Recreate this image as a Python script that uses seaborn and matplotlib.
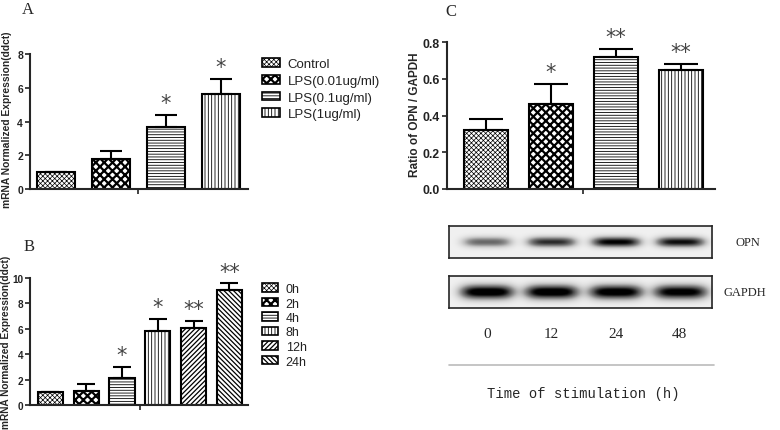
import os
import numpy as np
import matplotlib
matplotlib.use("Agg")
import matplotlib.pyplot as plt
import seaborn as sns
from matplotlib import font_manager
from matplotlib.patches import Patch
from matplotlib.lines import Line2D

# ---- data ----
dose_labels = ["Control", "LPS(0.01ug/ml)", "LPS(0.1ug/ml)", "LPS(1ug/ml)"]
dose_mean = [1.0, 1.75, 3.65, 5.65]
dose_upper = [1.0, 2.25, 4.4, 6.5]
dose_stars = ["", "", "*", "*"]

time_labels = ["0h", "2h", "4h", "8h", "12h", "24h"]
time_mean = [1.0, 1.1, 2.15, 5.85, 6.1, 9.05]
time_upper = [1.0, 1.65, 3.0, 6.8, 6.65, 9.6]
time_stars = ["", "", "*", "*", "**", "**"]

blot_lanes = ["0", "12", "24", "48"]
ratio_mean = [0.32, 0.46, 0.72, 0.65]
ratio_upper = [0.38, 0.57, 0.76, 0.68]
ratio_stars = ["", "*", "**", "**"]

opn_band = [0.55, 0.75, 0.9, 0.85]
gapdh_band = [1.0, 1.0, 0.98, 0.95]

dose_hatch = ["xxxxxxx", "xxxx", "------", "|||||"]
time_hatch = ["xxxxxxx", "xxxx", "------", "|||||", "///////", "\\\\\\\\\\\\\\"]
hatch_lw = {"xxxxxxx": 0.5, "xxxx": 1.6, "------": 0.6, "|||||": 0.6,
            "///////": 0.9, "\\\\\\\\\\\\\\": 0.9}

W, H = 780, 431

sns.set_style("ticks")
plt.rcParams["font.family"] = ["Liberation Sans", "DejaVu Sans"]
plt.rcParams["hatch.linewidth"] = 0.7
plt.rcParams["axes.linewidth"] = 1.5


def bold_font(size):
    """Arial-like bold, found by file so that the narrow cut is not used."""
    for f in font_manager.fontManager.ttflist:
        if os.path.basename(f.fname) == "LiberationSans-Bold.ttf":
            return font_manager.FontProperties(fname=f.fname, size=size)
    return font_manager.FontProperties(family="DejaVu Sans", weight="bold", size=size)


fig = plt.figure(figsize=(W / 100, H / 100), dpi=100)


def px_axes(x0, y0, x1, y1):
    """Axes placed by pixel box (left, top, right, bottom)."""
    return fig.add_axes([x0 / W, 1 - y1 / H, (x1 - x0) / W, (y1 - y0) / H])


def set_hatch(patch, h):
    patch.set_hatch(h)
    if hasattr(patch, "set_hatch_linewidth"):
        patch.set_hatch_linewidth(hatch_lw.get(h, 0.7))


def bar_panel(ax, labels, mean, upper, stars, hatches, width, ylim, yticks,
              xlim, tick_fs, cap, star_off, fmt):
    sns.barplot(x=labels, y=mean, order=labels, color="white", edgecolor="black",
                linewidth=1.5, width=width, saturation=1, errorbar=None, ax=ax)
    for patch, h in zip(ax.patches, hatches):
        set_hatch(patch, h)
        patch.set_facecolor("white")
    pos = np.arange(len(labels))
    err = np.array(upper) - np.array(mean)
    ax.errorbar(pos, mean, yerr=[np.zeros(len(mean)), err], fmt="none",
                ecolor="black", elinewidth=1.5, capsize=cap, capthick=1.5, zorder=5)
    for i, s in enumerate(stars):
        if s:
            ax.text(pos[i], upper[i] + star_off, s, ha="center", va="bottom",
                    fontsize=15, color="#444444", family="DejaVu Sans", clip_on=False)
    ax.set_ylim(*ylim)
    ax.set_yticks(yticks)
    ax.set_yticklabels([fmt.format(t) for t in yticks], fontproperties=bold_font(tick_fs))
    ax.set_xlim(*xlim)
    mid = (len(labels) - 1) / 2
    ax.set_xticks([mid])
    ax.set_xticklabels([""])
    ax.tick_params(axis="both", direction="out", length=3.5, width=1.2, colors="#222222",
                   pad=1.5)
    ax.set_xlabel("")
    ax.set_ylabel("")
    sns.despine(ax=ax)


def legend_box(labels, hatches, x, y, spacing, hl, hh, fs):
    handles = []
    for h, l in zip(hatches, labels):
        p = Patch(facecolor="white", edgecolor="black", hatch=h, linewidth=1.2, label=l)
        handles.append(p)
    leg = fig.legend(handles=handles, loc="upper left", bbox_to_anchor=(x / W, 1 - y / H),
                     frameon=False, fontsize=fs, handlelength=hl, handleheight=hh,
                     handletextpad=0.6, labelspacing=spacing, borderpad=0,
                     borderaxespad=0)
    for p, h in zip(leg.get_patches(), hatches):
        set_hatch(p, h)
    for t in leg.get_texts():
        t.set_color("#222222")


# Panel A
axA = px_axes(30, 55, 248, 190)
bar_panel(axA, dose_labels, dose_mean, dose_upper, dose_stars, dose_hatch, 0.69,
          (0, 8), [0, 2, 4, 6, 8], (-0.47, 3.49), 7.5, 8, 0.12, "{:d}")
fig.text(7 / W, 1 - 120 / H, "mRNA Normalized Expression(ddct)", rotation=90,
         ha="center", va="center", fontproperties=bold_font(7.4))
fig.text(22 / W, 1 - 10 / H, "A", fontsize=12, family="Liberation Serif",
         ha="left", va="center")
legend_box(dose_labels, dose_hatch, 262, 59, 0.36, 1.35, 0.65, 9.5)

# Panel B
axB = px_axes(30, 279, 248, 406)
bar_panel(axB, time_labels, time_mean, time_upper, time_stars, time_hatch, 0.70,
          (0, 10), [0, 2, 4, 6, 8, 10], (-0.57, 5.52), 7.2, 6.5, 0.12, "{:d}")
fig.text(6.5 / W, 1 - 342 / H, "mRNA Normalized Expression(ddct)", rotation=90,
         ha="center", va="center", fontproperties=bold_font(7.3))
fig.text(24 / W, 1 - 247 / H, "B", fontsize=12, family="Liberation Serif",
         ha="left", va="center")
legend_box(time_labels, time_hatch, 262, 284, 0.2, 1.3, 0.65, 9)

# Panel C
axC = px_axes(447, 43, 715, 190)
bar_panel(axC, blot_lanes, ratio_mean, ratio_upper, ratio_stars, dose_hatch, 0.68,
          (0, 0.8), [0.0, 0.2, 0.4, 0.6, 0.8], (-0.6, 3.53), 8.8, 12, 0.012, "{:.1f}")
fig.text(415 / W, 1 - 115 / H, "Ratio of OPN / GAPDH", rotation=90,
         ha="center", va="center", fontproperties=bold_font(8.5))
fig.text(445 / W, 1 - 12 / H, "C", fontsize=12, family="Liberation Serif",
         ha="left", va="center")


# Western blot strips
def blot(ax, strength, half_w, half_h):
    x = np.linspace(-0.59, 3.5, 420)
    y = np.linspace(-1, 1, 60)
    X, Y = np.meshgrid(x, y)
    img = np.full(X.shape, 0.12)
    for i, s in enumerate(strength):
        img += s * np.exp(-np.abs((X - i) / half_w) ** 4) * np.exp(-(Y / half_h) ** 2)
    ax.imshow(np.clip(img, 0, 1), cmap="Greys", vmin=0, vmax=1, aspect="auto",
              extent=(-0.59, 3.5, -1, 1), interpolation="bilinear")
    ax.set_xlim(-0.59, 3.5)
    ax.set_yticks([])
    for sp in ax.spines.values():
        sp.set_visible(True)
        sp.set_linewidth(1.2)


axOPN = px_axes(449, 227, 712, 259)
blot(axOPN, opn_band, 0.38, 0.32)
axOPN.set_xticks([])
axG = px_axes(449, 277, 712, 309)
blot(axG, gapdh_band, 0.42, 0.45)
axG.set_xticks(range(len(blot_lanes)))
axG.set_xticklabels(blot_lanes, family="Liberation Serif", fontsize=11)
axG.tick_params(axis="x", length=0, pad=14)

fig.text(735 / W, 1 - 243 / H, "OPN", family="Liberation Serif", fontsize=9,
         ha="left", va="center")
fig.text(724 / W, 1 - 293 / H, "GAPDH", family="Liberation Serif", fontsize=9,
         ha="left", va="center")
fig.add_artist(Line2D([449 / W, 714 / W], [1 - 366 / H, 1 - 366 / H],
                      color="#bbbbbb", linewidth=1.2))
fig.text(583 / W, 1 - 394 / H, "Time of stimulation (h)", family="Liberation Mono",
         fontsize=10, ha="center", va="center")

fig.savefig("out.png", dpi=100)
